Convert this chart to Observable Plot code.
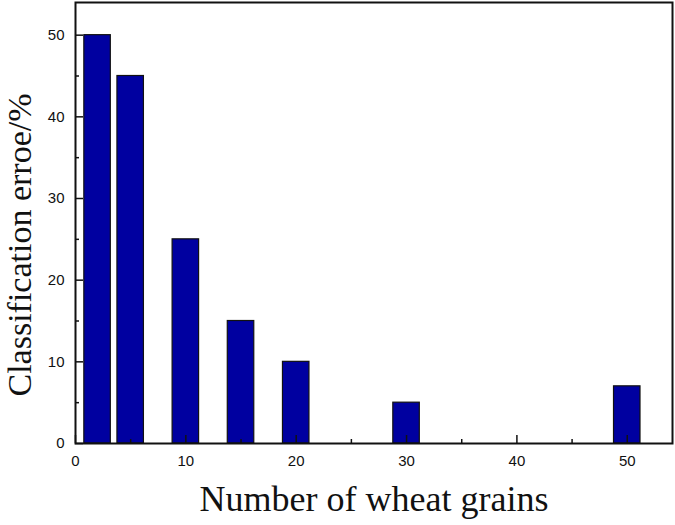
<!DOCTYPE html>
<html><head><meta charset="utf-8">
<script src="https://cdn.jsdelivr.net/npm/d3@7"></script>
<script src="https://cdn.jsdelivr.net/npm/@observablehq/plot@0.6"></script>
<style>body{margin:0;background:#fff}</style>
</head><body><div id="chart"></div>
<script>
const grains = [2, 5, 10, 15, 20, 30, 50];
const errors = [50, 45, 25, 15, 10, 5, 7];
const xTicks = [0, 10, 20, 30, 40, 50];
const xMinor = [5, 15, 25, 35, 45];
const yTicks = [0, 10, 20, 30, 40, 50];
const yMinor = [5, 15, 25, 35, 45];
const xTitle = "Number of wheat grains";
const yTitle = "Classification erroe/%";
const barWidth = 2.4;

const data = grains.map((g, i) => ({x1: g - barWidth/2, x2: g + barWidth/2, y: errors[i]}));
const W = 675, H = 525, mT = 2, mB = 82, mL = 75, mR = 3;
const plotH = H - mT - mB, plotW = W - mL - mR;

const chart = Plot.plot({
  width: W, height: H,
  marginTop: mT, marginBottom: mB, marginLeft: mL, marginRight: mR,
  x: {domain: [0, 54.1], axis: null},
  y: {domain: [0, 54], axis: null},
  marks: [
    Plot.rectY(data, {x1: "x1", x2: "x2", y: "y", fill: "#0000a0", stroke: "#111", strokeWidth: 1.2}),
    Plot.ruleX(xTicks, {x: d => d, insetTop: plotH - 8, stroke: "#111", strokeWidth: 1.5}),
    Plot.ruleX(xMinor, {x: d => d, insetTop: plotH - 4, stroke: "#111", strokeWidth: 1.5}),
    Plot.ruleY(yTicks, {y: d => d, insetRight: plotW - 8, stroke: "#111", strokeWidth: 1.5}),
    Plot.ruleY(yMinor, {y: d => d, insetRight: plotW - 4, stroke: "#111", strokeWidth: 1.5}),
    Plot.frame({stroke: "#111", strokeWidth: 2}),
    Plot.text(xTicks, {x: d => d, frameAnchor: "bottom", dy: 22, text: d => String(d), fontSize: 15, fontFamily: "Liberation Sans, Arial, sans-serif", fill: "#111"}),
    Plot.text(yTicks, {y: d => d, frameAnchor: "left", dx: -11, textAnchor: "end", text: d => String(d), fontSize: 15, fontFamily: "Liberation Sans, Arial, sans-serif", fill: "#111"}),
    Plot.text([xTitle], {frameAnchor: "bottom", dy: 67, text: d => d, fontSize: 36, fontFamily: "Liberation Serif, Times New Roman, serif", fill: "#111"}),
    Plot.text([yTitle], {frameAnchor: "left", textAnchor: "middle", lineAnchor: "middle", dx: -55, dy: 22, rotate: -90, text: d => d, fontSize: 34, fontFamily: "Liberation Serif, Times New Roman, serif", fill: "#111"})
  ]
});
document.getElementById("chart").appendChild(chart);
</script>
</body></html>
